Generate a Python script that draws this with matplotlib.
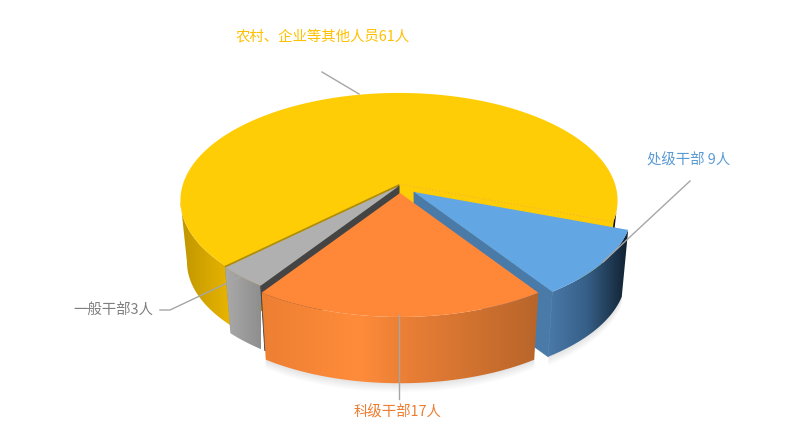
"""3D exploded pie of staff categories, drawn with polygons."""

import numpy as np
import matplotlib
matplotlib.use("Agg")
import matplotlib.pyplot as plt
from matplotlib.colors import LinearSegmentedColormap
from matplotlib.patches import Polygon

plt.rcParams["font.family"] = ["Noto Sans CJK SC", "DejaVu Sans"]

# data, going round from the big slice
categories = ["农村、企业等其他人员", "一般干部", "科级干部", "处级干部"]
counts = [61, 3, 17, 9]
label_texts = ["农村、企业等其他人员61人", "一般干部3人", "科级干部17人", "处级干部 9人"]

top_colors = ["#ffcd05", "#b0b0b0", "#ff8838", "#62a6e4"]
text_colors = ["#ffc000", "#7f7f7f", "#ed7d31", "#5b9bd5"]
wall_stops = [
    [(0.0, "#c09600"), (0.11, "#e8b400"), (0.5, "#e8b400"), (0.95, "#6b5300"), (0.975, "#3a2c00"), (1.0, "#100c00")],
    [(0.0, "#aaaaaa"), (1.0, "#8e8e8e")],
    [(0.0, "#ed7f33"), (0.35, "#ff8c3a"), (0.5, "#ec8036"), (1.0, "#b8652a")],
    [(0.0, "#4b7bab"), (0.5, "#365f87"), (1.0, "#10202f")],
]
# apex of each slice once pulled out of the pie, in px
apex_x = [399, 399, 400, 414]
apex_y = [184, 186, 193, 192]
slice_depth = [62, 68, 70, 68]

# projection of the disc
START_DEG = -20.0
RADIUS = 216.0
FLAT = 105.0
PERSP = 0.153
FAR_SCALE = 0.97


def rim(theta, cx, cy, depth=None):
    """Screen position of a rim point, on the top face or, given a depth, the bottom one."""
    d = 1 + PERSP * np.sin(theta)
    dx = RADIUS * np.cos(theta) / d
    dy = -FLAT * np.sin(theta) / d
    if depth is not None:
        return cx + FAR_SCALE * dx, cy + depth + FAR_SCALE * dy
    return cx + dx, cy + dy


def draw_wall(t_a, t_b, cx, cy, depth, cmap, x_lo, x_hi, z):
    """Outer wall between two angles, shaded left to right."""
    ts = np.linspace(t_a, t_b, 200)
    tx, ty = rim(ts, cx, cy)
    bx, by = rim(ts, cx, cy, depth)
    outline = np.column_stack([np.r_[tx, bx[::-1]], np.r_[ty, by[::-1]]])
    patch = Polygon(outline, closed=True, transform=ax.transData, fc="none", ec="none")
    ax.add_patch(patch)
    shade = np.linspace(0, 1, 512)[None, :]
    im = ax.imshow(shade, cmap=cmap, extent=[x_lo, x_hi, 436, 0], aspect="auto", zorder=z)
    im.set_clip_path(patch)


def draw_face(t_face, cx, cy, depth, color, z):
    """Flat cut face from the apex out to the rim."""
    ox, oy = rim(t_face, cx, cy)
    ux, uy = rim(t_face, cx, cy, depth)
    ax.fill([cx, ox, ux, cx], [cy, oy, uy, cy + depth], color=color, lw=0.6, zorder=z)


fig = plt.figure(figsize=(8, 4.36), dpi=100)
ax = fig.add_axes([0, 0, 1, 1])

# slice limits from the counts
sweep = np.radians(np.array(counts) / sum(counts) * 360)
limits = []
angle = np.radians(START_DEG)
for s in sweep:
    limits.append((angle, angle + s))
    angle = angle + s

# back to front: big slice, thin slice, blue, then orange on top
draw_order = [0, 1, 3, 2]
z = 2
for i in draw_order:
    t0, t1 = limits[i]
    cx, cy = apex_x[i], apex_y[i]
    depth = slice_depth[i]
    ts = np.linspace(t0, t1, 200)
    tx, ty = rim(ts, cx, cy)
    bx, by = rim(ts, cx, cy, depth)

    # soft shadow under the front slices
    if i in (2, 3):
        for k in range(1, 10):
            ax.fill(np.r_[bx, bx[::-1]], np.r_[by - 6, by[::-1] + k], color="#000000",
                    alpha=0.012, lw=0, zorder=1)

    cmap = LinearSegmentedColormap.from_list("wall%d" % i, wall_stops[i])
    if i == 0:
        draw_wall(t0, -PERSP, cx, cy, depth, cmap, 180, 617, z)
        draw_wall(np.pi + PERSP, t1, cx, cy, depth, cmap, 180, 617, z)
        draw_face(t0, cx, cy, depth, top_colors[0], z + 1)
        draw_face(t1, cx, cy, depth, "#b08c00", z + 1)
    elif i == 1:
        draw_wall(t0, t1, cx, cy, depth, cmap, tx.min(), tx.max(), z)
        draw_face(t1, cx, cy, depth, "#444444", z + 1)
    elif i == 3:
        draw_wall(t0, t1, cx, cy, depth, cmap, tx.min() - 6, tx.max(), z)
        draw_face(t0, cx, cy, depth, "#4a7aa8", z + 1)
    else:
        draw_wall(t0, t1, cx, cy, depth, cmap, tx.min(), tx.max(), z)

    ax.fill(np.r_[cx, tx], np.r_[cy, ty], color=top_colors[i], lw=0, zorder=z + 2)
    if i == 0:
        ox, oy = rim(t0, cx, cy)
        ax.plot([cx, ox], [cy, oy], color="#f0b428", lw=0.6, ls=(0, (2, 2)), zorder=z + 3)
    z += 4

# leader lines
leader_color = "#a6a6a6"
ax.plot([322, 359], [72, 94], color=leader_color, lw=1, zorder=50)
ax.plot([690, 603], [181, 262], color=leader_color, lw=1, zorder=50)
ax.plot([160, 170, 240], [310, 310, 277], color=leader_color, lw=1, zorder=50)
ax.plot([399, 399], [315, 399], color=leader_color, lw=1, zorder=50)

# labels
label_x = [323, 113, 398, 689]
label_y = [37, 311, 412, 160]
for i in range(len(counts)):
    ax.text(label_x[i], label_y[i], label_texts[i], color=text_colors[i], fontsize=10.4,
            fontweight="medium", ha="center", va="center", zorder=60)

ax.set_xlim(0, 800)
ax.set_ylim(436, 0)
ax.axis("off")

fig.savefig("out.png", dpi=100, facecolor="white")
